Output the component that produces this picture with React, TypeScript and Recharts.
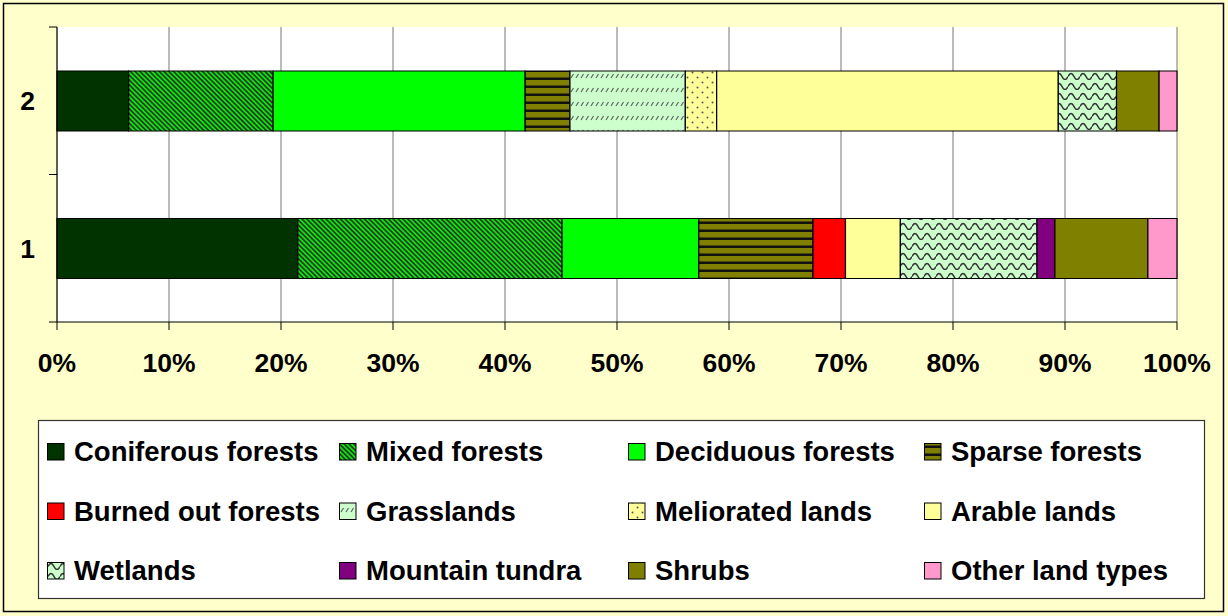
import { BarChart, Bar, XAxis, YAxis, CartesianGrid } from 'recharts'

// land-use structure, % of area, for the two compared states
const CATEGORIES = ['1', '2']
const LAND_TYPES = [
  'Coniferous forests', 'Mixed forests', 'Deciduous forests', 'Sparse forests',
  'Burned out forests', 'Grasslands', 'Meliorated lands', 'Arable lands',
  'Wetlands', 'Mountain tundra', 'Shrubs', 'Other land types',
]
const CONIFEROUS = [21.5, 6.4]
const MIXED = [23.6, 12.9]
const DECIDUOUS = [12.2, 22.5]
const SPARSE = [10.2, 4.0]
const BURNED = [2.9, 0]
const GRASSLANDS = [0, 10.3]
const MELIORATED = [0, 2.8]
const ARABLE = [4.9, 30.5]
const WETLANDS = [12.2, 5.2]
const TUNDRA = [1.6, 0]
const SHRUBS = [8.3, 3.8]
const OTHER = [2.6, 1.6]
const SHARES = [CONIFEROUS, MIXED, DECIDUOUS, SPARSE, BURNED, GRASSLANDS, MELIORATED, ARABLE, WETLANDS, TUNDRA, SHRUBS, OTHER]
const X_TICKS = [0, 10, 20, 30, 40, 50, 60, 70, 80, 90, 100]

const FILLS = [
  '#003300', 'url(#pMixed)', '#00FF00', 'url(#pSparse)',
  '#FF0000', 'url(#pGrass)', 'url(#pMelio)', '#FFFF99',
  'url(#pWet)', '#800080', '#808000', '#FF99CC',
]

const data = CATEGORIES.map((name, i) => {
  const row: Record<string, string | number> = { name }
  LAND_TYPES.forEach((_, j) => { row['s' + j] = SHARES[j][i] })
  return row
})

const FONT = '"Liberation Sans", Arial, sans-serif'
const AXIS_TICK = { fill: '#000', fontSize: 26.5, fontWeight: 700, fontFamily: FONT }
const Y_TICK_SIZE = 8
const Y_TICK_MARGIN = 14

// legend grid (4 columns x 3 rows)
const LEG_COLS = [47, 339, 628, 924]
const LEG_ROWS = [443, 502.5, 562]

// category label plus Excel-style tick marks on the band edges (between categories)
function CategoryTick(props: any) {
  const { x, y, payload } = props
  const axisX = x + Y_TICK_MARGIN + Y_TICK_SIZE
  const half = payload.offset ?? 0
  return (
    <g>
      <line x1={axisX - Y_TICK_SIZE} x2={axisX} y1={y - half} y2={y - half} stroke="#000" />
      <line x1={axisX - Y_TICK_SIZE} x2={axisX} y1={y + half} y2={y + half} stroke="#000" />
      <text x={x} y={y} dy="0.355em" textAnchor="end" {...AXIS_TICK}>{payload.value}</text>
    </g>
  )
}

function Patterns() {
  return (
    <defs>
      <pattern id="pMixed" width="3.4" height="10" patternUnits="userSpaceOnUse" patternTransform="rotate(-45)">
        <rect width="3.4" height="10" fill="#00EE00" />
        <rect width="1.7" height="10" fill="#333333" />
      </pattern>
      <pattern id="pSparse" width="8" height="8" patternUnits="userSpaceOnUse">
        <rect width="8" height="8" fill="#808000" />
        <rect y="5.5" width="8" height="2.5" fill="#111" />
      </pattern>
      <pattern id="pGrass" width="5" height="14" patternUnits="userSpaceOnUse">
        <rect width="5" height="14" fill="#CCFFCC" />
        <path d="M1,8 L3.5,4" stroke="#666" strokeWidth="1.3" />
      </pattern>
      <pattern id="pMelio" width="10" height="10" patternUnits="userSpaceOnUse">
        <rect width="10" height="10" fill="#FFFF99" />
        <circle cx="2.5" cy="2.5" r="1" fill="#555" />
        <circle cx="7.5" cy="7.5" r="1" fill="#555" />
      </pattern>
      <pattern id="pWet" width="12" height="10" patternUnits="userSpaceOnUse">
        <rect width="12" height="10" fill="#CCFFCC" />
        <path d="M0,6.5 Q3,0.5 6,6.5 T12,6.5" fill="none" stroke="#333" strokeWidth="1.6" />
      </pattern>
    </defs>
  )
}

function LegendFrame() {
  return (
    <svg width={1228} height={616} style={{ position: 'absolute', left: 0, top: 0, pointerEvents: 'none' }}>
      <Patterns />
      <rect x={3.5} y={3.5} width={1220} height={608} fill="none" stroke="#000" strokeWidth={1.5} />
      <rect x={38.5} y={420.5} width={1166} height={178} fill="#fff" stroke="#333" strokeWidth={1.2} />
      {LAND_TYPES.map((t, i) => {
        const x = LEG_COLS[i % 4]
        const y = LEG_ROWS[Math.floor(i / 4)]
        return (
          <g key={t}>
            <rect x={x + 0.5} y={y + 0.5} width={16.5} height={16.5} fill={FILLS[i]} stroke="#000" strokeWidth={1} />
            <text x={x + 27} y={y + 18} fill="#000" fontSize={27.5} fontWeight={700} fontFamily={FONT}>{t}</text>
          </g>
        )
      })}
    </svg>
  )
}

export default function App() {
  return (
    <div style={{ position: 'absolute', left: 0, top: 0, width: 1228, height: 616, background: '#FFFFCC', fontFamily: FONT }}>
      <BarChart
        width={1228}
        height={380}
        data={data}
        layout="vertical"
        margin={{ top: 27, right: 51, bottom: 0, left: 0 }}
        barSize={60}
      >
        <CartesianGrid horizontal={false} stroke="#777" fill="#fff" />
        <XAxis
          type="number"
          domain={[0, 100]}
          ticks={X_TICKS}
          interval={0}
          tickFormatter={(v: number) => `${v}%`}
          axisLine={{ stroke: '#000' }}
          tickLine={{ stroke: '#000' }}
          tickSize={8}
          tickMargin={23}
          height={58}
          tick={AXIS_TICK}
        />
        <YAxis
          type="category"
          dataKey="name"
          reversed
          width={57}
          axisLine={{ stroke: '#000' }}
          tickLine={false}
          tickSize={Y_TICK_SIZE}
          tickMargin={Y_TICK_MARGIN}
          tick={<CategoryTick />}
        />
        {LAND_TYPES.map((t, i) => (
          <Bar
            key={t}
            dataKey={'s' + i}
            name={t}
            stackId="land"
            fill={FILLS[i]}
            stroke="#000"
            strokeWidth={1.2}
            isAnimationActive={false}
          />
        ))}
      </BarChart>
      <LegendFrame />
    </div>
  )
}
